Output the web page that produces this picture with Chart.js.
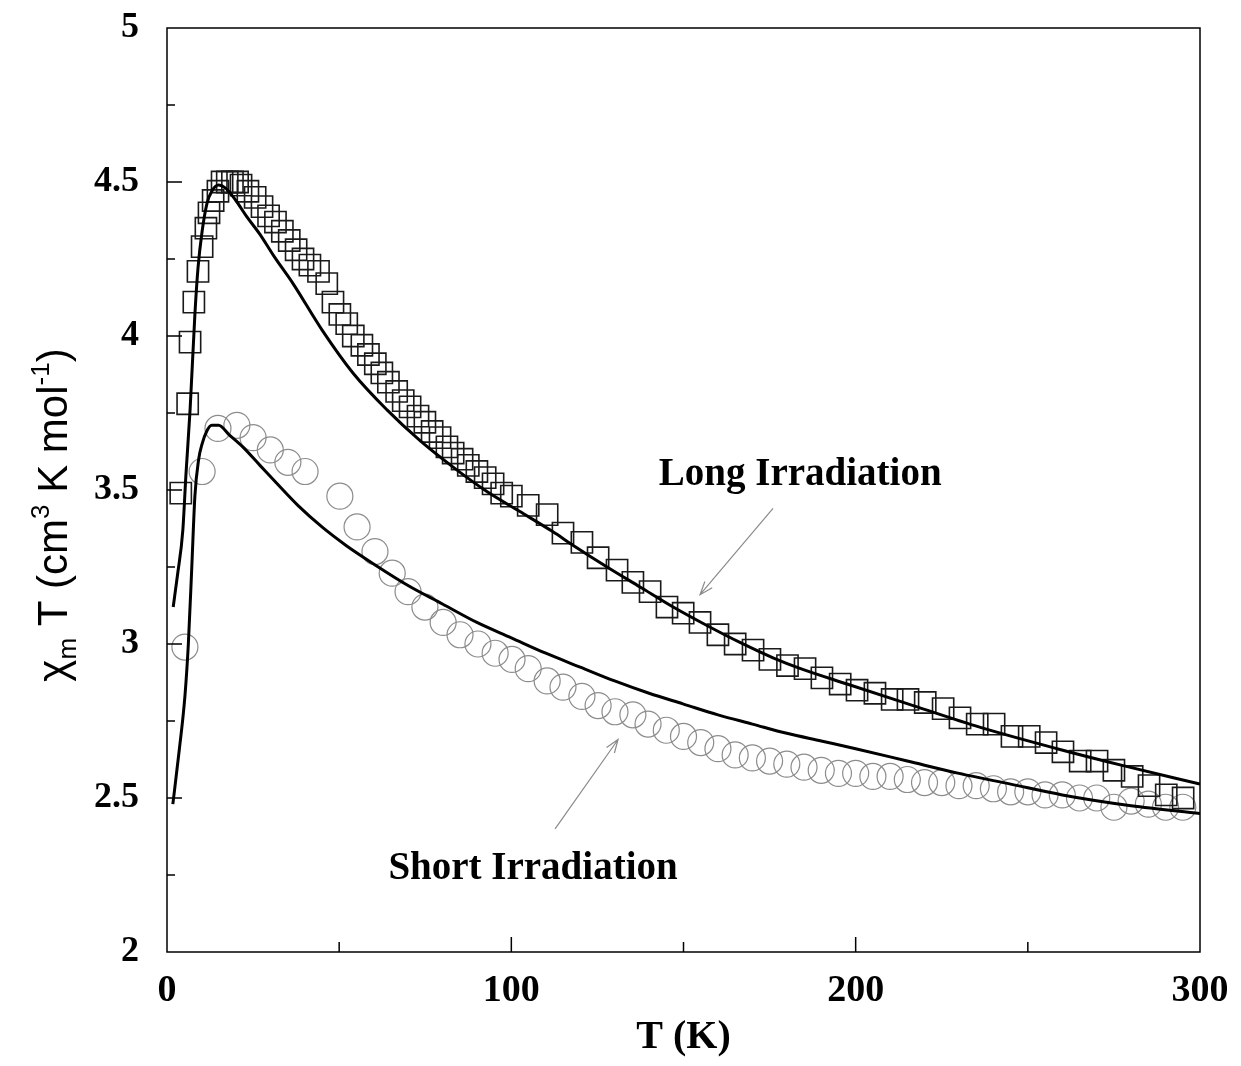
<!DOCTYPE html>
<html>
<head>
<meta charset="utf-8">
<script src="https://cdn.jsdelivr.net/npm/chart.js@4.4.1/dist/chart.umd.min.js"></script>
<style>
  html, body { margin: 0; padding: 0; background: #fff; }
  #wrap { width: 1241px; height: 1066px; }
</style>
</head>
<body>
<div id="wrap"><canvas id="chart" width="1241" height="1066"></canvas></div>
<script>
// Long irradiation data (squares)
const longT = [4, 6, 6.7, 7.8, 9, 10.2, 11.3, 12.2, 13.4, 14.8,
  16, 17.5, 19, 20.5, 21.5, 23.5, 25.6, 27.6, 29.5, 31.5,
  33.5, 35.5, 37.5, 39.5, 41.5, 44, 46.4, 48.2, 50.2, 52.2,
  54.1, 56.6, 58.5, 60.5, 62.4, 64.3, 66.7, 68.6, 70.6, 72.9,
  74.9, 77, 79.3, 81.3, 83.1, 85.7, 87.5, 90, 92.4, 94.7,
  97.2, 100, 104.9, 110.4, 115, 120.5, 125.2, 130.7, 135.3, 140.3,
  145.2, 149.9, 154.8, 160, 165, 170.2, 175.1, 180.2, 185.3, 190.2,
  195.5, 200.4, 205.6, 210.6, 215.2, 220.2, 225.4, 230.3, 235.3, 240.2,
  245.4, 250.4, 255.3, 260.2, 265.2, 270.1, 275, 280.3, 285.2, 290.2, 295.1];
const longChiT = [3.49, 3.78, 3.98, 4.11, 4.21, 4.29, 4.35, 4.40, 4.44, 4.47,
  4.50, 4.50, 4.50, 4.50, 4.49, 4.47, 4.45, 4.42, 4.39, 4.37,
  4.34, 4.31, 4.28, 4.25, 4.23, 4.21, 4.17, 4.11, 4.07, 4.04,
  4.00, 3.97, 3.94, 3.91, 3.88, 3.85, 3.82, 3.79, 3.77, 3.74,
  3.72, 3.69, 3.67, 3.64, 3.62, 3.60, 3.58, 3.56, 3.54, 3.52,
  3.49, 3.48, 3.45, 3.42, 3.36, 3.33, 3.28, 3.24, 3.20, 3.17,
  3.12, 3.10, 3.07, 3.03, 3.00, 2.98, 2.95, 2.93, 2.92, 2.89,
  2.87, 2.85, 2.84, 2.82, 2.82, 2.81, 2.79, 2.76, 2.74, 2.74,
  2.70, 2.70, 2.68, 2.65, 2.62, 2.62, 2.59, 2.57, 2.54, 2.51, 2.50];

// Short irradiation data (circles)
const shortT = [5.2, 10.2, 14.8, 20.3, 25, 30, 35.1, 40.1, 50.2, 55.2,
  60.4, 65.4, 70, 74.9, 80.2, 85.1, 90.3, 95.3, 100.2, 104.9,
  110.4, 115, 120.5, 125.2, 130.1, 135.3, 139.7, 145, 150, 155,
  160, 165, 170, 175, 180, 185, 190, 195, 200, 205,
  210, 215, 220, 225, 230, 235, 240, 245, 250, 255,
  260, 265, 270, 275, 280, 285, 290, 295];
const shortChiT = [2.99, 3.56, 3.70, 3.71, 3.67, 3.63, 3.59, 3.56, 3.48, 3.38,
  3.30, 3.23, 3.17, 3.12, 3.07, 3.03, 3.00, 2.97, 2.95, 2.92,
  2.88, 2.86, 2.83, 2.80, 2.78, 2.77, 2.74, 2.72, 2.70, 2.68,
  2.66, 2.64, 2.63, 2.62, 2.61, 2.60, 2.59, 2.58, 2.58, 2.57,
  2.57, 2.56, 2.55, 2.55, 2.54, 2.54, 2.53, 2.52, 2.52, 2.51,
  2.51, 2.50, 2.50, 2.47, 2.49, 2.48, 2.47, 2.47];

// Fitted curves (solid lines)
const longFitT = [1.8, 3, 4.6, 5.5, 6.7, 8.1, 9, 10.2, 11.6, 13, 15, 17, 20, 23, 27, 31, 36.6,
  45, 54, 63.9, 73.5, 83, 92.9, 102.5, 112, 118, 127.8, 137.4, 147, 156.8, 166.4, 176, 184,
  197.5, 216.7, 236, 258.5, 277.7, 300];
const longFitChiT = [3.12, 3.22, 3.37, 3.55, 3.76, 4.07, 4.22, 4.34, 4.43, 4.47, 4.49, 4.48, 4.44, 4.39, 4.33, 4.26, 4.17,
  4.02, 3.88, 3.76, 3.66, 3.575, 3.495, 3.43, 3.365, 3.32, 3.25, 3.185, 3.12, 3.06, 3.005, 2.955, 2.92,
  2.87, 2.80, 2.73, 2.66, 2.605, 2.545];
const shortFitT = [1.7, 3.5, 5.2, 6.2, 7.2, 8.1, 9.2, 10.2, 11.5, 13, 15, 18, 22, 27, 32, 38, 45,
  52, 60, 70, 80, 90, 100, 110, 120, 130, 140, 150, 160, 170, 180,
  190, 200, 215, 230, 245, 260, 280, 300];
const shortFitChiT = [2.48, 2.65, 2.83, 3.00, 3.25, 3.48, 3.60, 3.65, 3.69, 3.71, 3.71, 3.68, 3.64, 3.58, 3.52, 3.45, 3.38,
  3.32, 3.26, 3.19, 3.13, 3.07, 3.02, 2.97, 2.925, 2.88, 2.84, 2.805, 2.77, 2.74, 2.71,
  2.685, 2.66, 2.62, 2.58, 2.545, 2.51, 2.475, 2.45];

const xTicks = [0, 100, 200, 300];
const yTicks = [2, 2.5, 3, 3.5, 4, 4.5, 5];

// annotation anchors, in data units
const labels = [
  { text: 'Long Irradiation', x: 183.9, y: 3.55, from: [176, 3.44], to: [154.8, 3.16] },
  { text: 'Short Irradiation', x: 106.3, y: 2.27, from: [112.7, 2.40], to: [131, 2.69] }
];

const zip = (xs, ys) => xs.map((x, i) => ({ x: x, y: ys[i] }));

const serifBold = (size) => ({ family: '"Liberation Serif", "Times New Roman", serif', size: size, weight: 'bold' });

const framePlugin = {
  id: 'frame',
  afterDatasetsDraw(chart) {
    const ctx = chart.ctx;
    const a = chart.chartArea;
    const xs = chart.scales.x, ys = chart.scales.y;
    ctx.save();
    ctx.strokeStyle = '#000';
    ctx.lineWidth = 1.5;
    ctx.strokeRect(a.left, a.top, a.right - a.left, a.bottom - a.top);
    ctx.beginPath();
    for (let v = 50; v < 300; v += 50) {
      const px = xs.getPixelForValue(v);
      const len = v % 100 === 0 ? 15 : 10;
      ctx.moveTo(px, a.bottom);
      ctx.lineTo(px, a.bottom - len);
    }
    for (let v = 2.25; v < 5; v += 0.25) {
      const py = ys.getPixelForValue(v);
      const len = Math.abs(v * 2 - Math.round(v * 2)) < 1e-6 ? 15 : 8;
      ctx.moveTo(a.left, py);
      ctx.lineTo(a.left + len, py);
    }
    ctx.stroke();

    // annotations
    ctx.fillStyle = '#000';
    ctx.font = 'bold 39px "Liberation Serif", serif';
    ctx.textAlign = 'center';
    ctx.textBaseline = 'middle';
    labels.forEach(l => {
      ctx.fillText(l.text, xs.getPixelForValue(l.x), ys.getPixelForValue(l.y));
      const x1 = xs.getPixelForValue(l.from[0]), y1 = ys.getPixelForValue(l.from[1]);
      const x2 = xs.getPixelForValue(l.to[0]), y2 = ys.getPixelForValue(l.to[1]);
      ctx.strokeStyle = '#8a8a8a';
      ctx.lineWidth = 1.2;
      ctx.beginPath();
      ctx.moveTo(x1, y1);
      ctx.lineTo(x2, y2);
      const ang = Math.atan2(y2 - y1, x2 - x1);
      const h = 14;
      ctx.moveTo(x2 - h * Math.cos(ang - 0.35), y2 - h * Math.sin(ang - 0.35));
      ctx.lineTo(x2, y2);
      ctx.lineTo(x2 - h * Math.cos(ang + 0.35), y2 - h * Math.sin(ang + 0.35));
      ctx.stroke();
    });

    // x title
    ctx.font = 'bold 40px "Liberation Serif", serif';
    ctx.fillText('T (K)', (a.left + a.right) / 2, 1038);

    // y title with sub/superscripts
    const parts = [
      { t: '\u03C7', s: 42, dy: 0 },
      { t: 'm', s: 26, dy: 9 },
      { t: ' T (cm', s: 42, dy: 0 },
      { t: '3', s: 26, dy: -18 },
      { t: ' K mol', s: 42, dy: 0 },
      { t: '-1', s: 26, dy: -18 },
      { t: ')', s: 42, dy: 0 }
    ];
    const fam = '"Liberation Sans", Arial, sans-serif';
    let total = 0;
    parts.forEach(p => { ctx.font = p.s + 'px ' + fam; p.w = ctx.measureText(p.t).width; total += p.w; });
    ctx.translate(67, 515);
    ctx.rotate(-Math.PI / 2);
    ctx.textAlign = 'left';
    ctx.textBaseline = 'alphabetic';
    let cx = -total / 2;
    parts.forEach(p => {
      ctx.font = p.s + 'px ' + fam;
      ctx.fillText(p.t, cx, p.dy);
      cx += p.w;
    });
    ctx.restore();
  }
};

const ctx = document.getElementById('chart').getContext('2d');
new Chart(ctx, {
  type: 'scatter',
  data: {
    datasets: [
      {
        label: 'Long fit',
        data: zip(longFitT, longFitChiT),
        showLine: true,
        borderColor: '#000',
        borderWidth: 3,
        pointRadius: 0,
        cubicInterpolationMode: 'monotone'
      },
      {
        label: 'Short fit',
        data: zip(shortFitT, shortFitChiT),
        showLine: true,
        borderColor: '#000',
        borderWidth: 3,
        pointRadius: 0,
        cubicInterpolationMode: 'monotone'
      },
      {
        label: 'Long Irradiation',
        data: zip(longT, longChiT),
        pointStyle: 'rect',
        pointRadius: 15,
        borderColor: '#1a1a1a',
        borderWidth: 1.6,
        backgroundColor: 'rgba(0,0,0,0)'
      },
      {
        label: 'Short Irradiation',
        data: zip(shortT, shortChiT),
        pointStyle: 'circle',
        pointRadius: 13,
        borderColor: '#8c8c8c',
        borderWidth: 1.2,
        backgroundColor: 'rgba(0,0,0,0)'
      }
    ]
  },
  options: {
    responsive: false,
    animation: false,
    layout: { padding: { top: 28, right: 41, left: 0, bottom: 0 } },
    plugins: { legend: { display: false }, tooltip: { enabled: false } },
    scales: {
      x: {
        type: 'linear',
        min: 0,
        max: 300,
        grid: { display: false },
        border: { display: false },
        ticks: {
          stepSize: 50,
          autoSkip: false,
          maxRotation: 0,
          padding: 8,
          color: '#000',
          font: serifBold(38),
          callback: v => xTicks.includes(v) ? String(v) : ''
        },
        afterFit: s => { s.height = 114; s.paddingLeft = 0; s.paddingRight = 0; }
      },
      y: {
        type: 'linear',
        min: 2,
        max: 5,
        grid: { display: false },
        border: { display: false },
        ticks: {
          stepSize: 0.25,
          autoSkip: false,
          padding: 20,
          color: '#000',
          font: serifBold(36),
          callback: v => yTicks.includes(v) ? String(v) : ''
        },
        afterFit: s => { s.width = 167; s.paddingTop = 0; s.paddingBottom = 0; }
      }
    }
  },
  plugins: [framePlugin]
});
</script>
</body>
</html>
